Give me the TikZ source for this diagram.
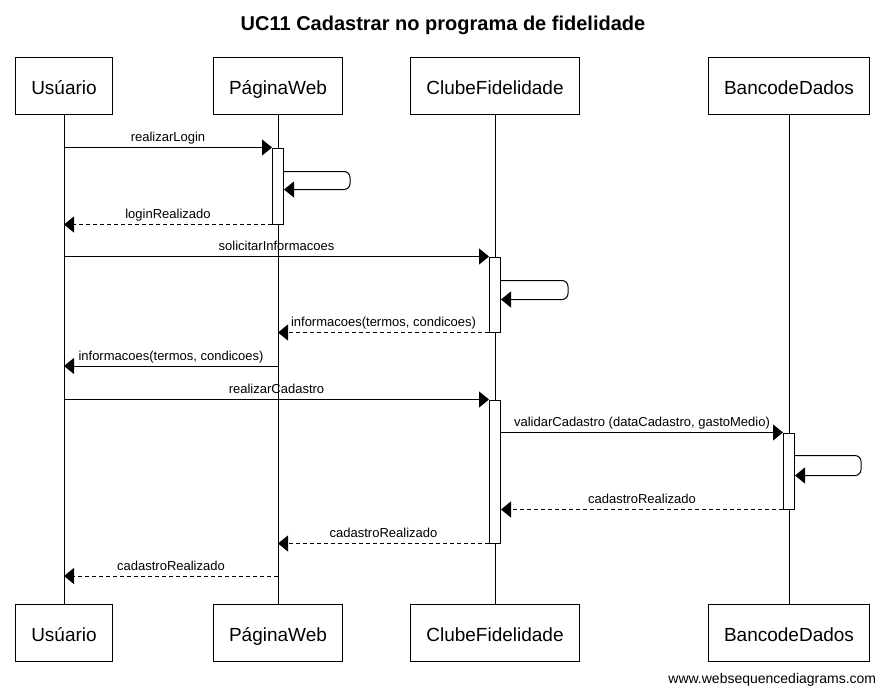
\documentclass[tikz,border=0pt]{standalone}
\usepackage{fontspec}
\setmainfont{Liberation Sans}
\usetikzlibrary{positioning, arrows.meta}

\tikzset{
  actor/.style={draw, line width=1pt, minimum height=57pt, inner xsep=15.5pt, text height=18pt, text depth=0pt, font=\fontsize{19}{22}\selectfont},
  activation/.style={draw, fill=white, line width=1pt, minimum width=11pt, inner sep=0pt},
  msg/.style={line width=1pt, -{Triangle[length=10pt, width=16pt]}},
  reply/.style={msg, dash pattern=on 4pt off 3pt},
  lbl/.style={font=\fontsize{13}{15}\selectfont, inner sep=1pt, text height=9.5pt, text depth=2.8pt},
}

\begin{document}
\begin{tikzpicture}[x=1pt, y=-1pt, line width=1pt]
        \useasboundingbox (0,0) rectangle (885,694);
        \node[font=\fontsize{20}{24}\selectfont\bfseries] (title) at (443,25) {UC11 Cadastrar no programa de fidelidade};

        % participantes
        \node[actor] (usrT) at (64,85.5) {Usúario};
        \node[actor] (webT) at (278,85.5) {PáginaWeb};
        \node[actor] (clubeT) at (495,85.5) {ClubeFidelidade};
        \node[actor] (bancoT) at (789,85.5) {BancodeDados};
        \node[actor, below = 489pt of usrT] (usrB) {Usúario};
        \node[actor, below = 489pt of webT] (webB) {PáginaWeb};
        \node[actor, below = 489pt of clubeT] (clubeB) {ClubeFidelidade};
        \node[actor, below = 489pt of bancoT] (bancoB) {BancodeDados};
        \draw (usrT) -- (usrB);
        \draw (webT) -- (webB);
        \draw (clubeT) -- (clubeB);
        \draw (bancoT) -- (bancoB);

        % ativacoes
        \node[activation, minimum height=76pt] (actWeb) at (278,186) {};
        \node[activation, minimum height=75pt] (actClube) at (495,294.5) {};
        \node[activation, minimum height=143pt] (actCad) at (495,471.5) {};
        \node[activation, minimum height=76pt] (actBanco) at (789,471) {};

        % login
        \draw[msg] (usrT |- actWeb.north) -- (actWeb.north west) node[lbl, midway, above=1.5pt] {realizarLogin};
        \draw[msg, rounded corners=6pt] ([yshift=-24pt]actWeb.north east) -- ++(66,0) -- ++(0,18) -- ([yshift=-42pt]actWeb.north east);
        \draw[reply] (actWeb.south west) -- (usrT |- actWeb.south) node[lbl, midway, above=1.5pt] {loginRealizado};

        % informacoes
        \draw[msg] (usrT |- actClube.north) -- (actClube.north west) node[lbl, midway, above=1.5pt] {solicitarInformacoes};
        \draw[msg, rounded corners=6pt] ([yshift=-24pt]actClube.north east) -- ++(67,0) -- ++(0,19) -- ([yshift=-43pt]actClube.north east);
        \draw[reply] (actClube.south west) -- (webT |- actClube.south) node[lbl, midway, above=1.5pt] {informacoes(termos, condicoes)};
        \draw[msg] (webT |- 0,366) -- (usrT |- 0,366) node[lbl, midway, above=1.5pt] {informacoes(termos, condicoes)};

        % cadastro
        \draw[msg] (usrT |- actCad.north) -- (actCad.north west) node[lbl, midway, above=1.5pt] {realizarCadastro};
        \draw[msg] (actCad.east |- actBanco.north) -- (actBanco.north west) node[lbl, midway, above=1.5pt] {validarCadastro (dataCadastro, gastoMedio)};
        \draw[msg, rounded corners=6pt] ([yshift=-23pt]actBanco.north east) -- ++(66,0) -- ++(0,20) -- ([yshift=-43pt]actBanco.north east);
        \draw[reply] (actBanco.south west) -- (actCad.east |- actBanco.south) node[lbl, midway, above=1.5pt] {cadastroRealizado};
        \draw[reply] (actCad.south west) -- (webT |- actCad.south) node[lbl, midway, above=1.5pt] {cadastroRealizado};
        \draw[reply] (webT |- 0,576) -- (usrT |- 0,576) node[lbl, midway, above=1.5pt] {cadastroRealizado};

        \node[anchor=east, font=\fontsize{14}{16}\selectfont] (site) at (880,680) {www.websequencediagrams.com};
    \end{tikzpicture}
\end{document}
